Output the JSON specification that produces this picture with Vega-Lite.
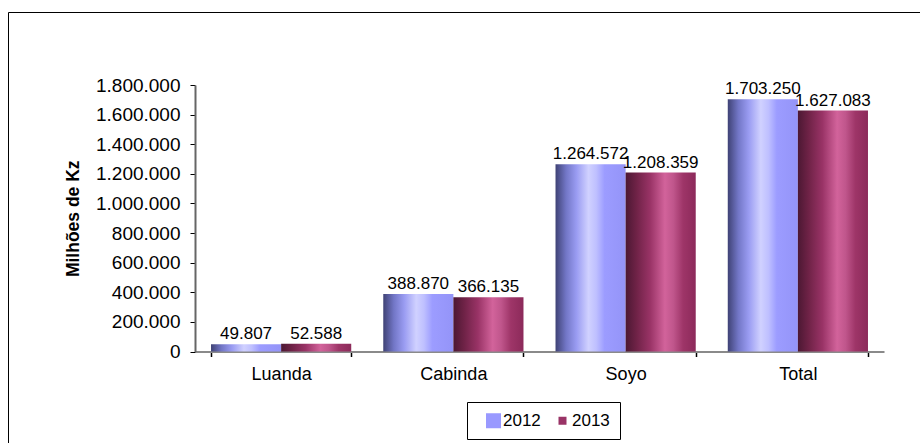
{
  "$schema": "https://vega.github.io/schema/vega-lite/v6.json",
  "width": 912,
  "height": 431,
  "autosize": {"type": "none"},
  "padding": {"left": 8, "top": 12, "right": 0, "bottom": 0},
  "background": "white",
  "config": {
    "locale": {"number": {"decimal": ",", "thousands": ".", "grouping": [3], "currency": ["", ""]}},
    "view": {"stroke": "#000000", "strokeWidth": 1},
    "font": "Liberation Sans"
  },
  "data": {
    "values": [
      {"regiao": "Luanda", "ano": "2012", "valor": 49807},
      {"regiao": "Luanda", "ano": "2013", "valor": 52588},
      {"regiao": "Cabinda", "ano": "2012", "valor": 388870},
      {"regiao": "Cabinda", "ano": "2013", "valor": 366135},
      {"regiao": "Soyo", "ano": "2012", "valor": 1264572},
      {"regiao": "Soyo", "ano": "2013", "valor": 1208359},
      {"regiao": "Total", "ano": "2012", "valor": 1703250},
      {"regiao": "Total", "ano": "2013", "valor": 1627083}
    ]
  },
  "encoding": {
    "x": {
      "field": "regiao",
      "type": "nominal",
      "sort": ["Luanda", "Cabinda", "Soyo", "Total"],
      "scale": {"range": [187, 876], "paddingInner": 0.186, "paddingOuter": 0.093},
      "axis": {
        "title": null,
        "labelAngle": 0,
        "labelFontSize": 18,
        "labelColor": "#000000",
        "labelPadding": 9,
        "tickBand": "extent",
        "tickSize": 5,
        "tickColor": "#000000",
        "tickWidth": 1.5,
        "domainColor": "#8a8a8a",
        "domainWidth": 2,
        "offset": -91.5,
        "grid": false
      }
    },
    "xOffset": {
      "field": "ano",
      "type": "nominal",
      "scale": {"domain": ["2012", "2013"], "paddingInner": 0, "paddingOuter": 0}
    },
    "y": {
      "field": "valor",
      "type": "quantitative",
      "scale": {"domain": [0, 1800000], "range": [339.5, 73], "nice": false},
      "axis": {
        "title": "Milhões de Kz",
        "titleFontSize": 17.5,
        "titleFontWeight": "bold",
        "titleColor": "#000000",
        "titlePadding": 13,
        "values": [0, 200000, 400000, 600000, 800000, 1000000, 1200000, 1400000, 1600000, 1800000],
        "format": ",d",
        "labelFontSize": 19,
        "labelColor": "#000000",
        "labelPadding": 10,
        "tickSize": 5,
        "tickColor": "#000000",
        "domainColor": "#666666",
        "domainWidth": 2,
        "offset": -187,
        "grid": false
      }
    }
  },
  "layer": [
    {
      "mark": {"type": "square", "opacity": 0},
      "encoding": {
        "color": {
          "field": "ano",
          "type": "nominal",
          "scale": {"domain": ["2012", "2013"], "range": ["#9999ff", "#993366"]},
          "legend": {
            "orient": "none",
            "legendX": 459,
            "legendY": 390,
            "direction": "horizontal",
            "title": null,
            "strokeColor": "#000000",
            "padding": 10,
            "symbolType": "square",
            "symbolOpacity": 1,
            "symbolStrokeWidth": 0,
            "symbolOffset": 8,
            "labelFontSize": 17,
            "labelColor": "#000000",
            "labelOffset": 1,
            "columnPadding": 5
          }
        },
        "size": {
          "field": "ano",
          "type": "nominal",
          "scale": {"domain": ["2012", "2013"], "range": [225, 64]},
          "legend": {
            "orient": "none",
            "legendX": 459,
            "legendY": 390,
            "direction": "horizontal",
            "title": null,
            "strokeColor": "#000000",
            "padding": 10,
            "symbolType": "square",
            "symbolOpacity": 1,
            "symbolStrokeWidth": 0,
            "symbolOffset": 8,
            "labelFontSize": 17,
            "labelColor": "#000000",
            "labelOffset": 1,
            "columnPadding": 5
          }
        }
      }
    },
    {
      "transform": [{"filter": "datum.ano == '2012'"}],
      "mark": {
        "type": "bar",
        "fill": {
          "gradient": "linear", "x1": 0, "y1": 0, "x2": 1, "y2": 0,
          "stops": [
            {"offset": 0, "color": "#3f4275"},
            {"offset": 0.15, "color": "#7276c6"},
            {"offset": 0.3, "color": "#9a9cf2"},
            {"offset": 0.47, "color": "#d0d1ff"},
            {"offset": 0.58, "color": "#bfc0ff"},
            {"offset": 0.7, "color": "#9c9cff"},
            {"offset": 1, "color": "#9494f8"}
          ]
        }
      }
    },
    {
      "transform": [{"filter": "datum.ano == '2013'"}],
      "mark": {
        "type": "bar",
        "fill": {
          "gradient": "linear", "x1": 0, "y1": 0, "x2": 1, "y2": 0,
          "stops": [
            {"offset": 0, "color": "#4c1833"},
            {"offset": 0.15, "color": "#6e2246"},
            {"offset": 0.35, "color": "#993366"},
            {"offset": 0.56, "color": "#d2639b"},
            {"offset": 0.68, "color": "#c0568c"},
            {"offset": 0.82, "color": "#9e3568"},
            {"offset": 1, "color": "#8c2a5a"}
          ]
        }
      }
    },
    {
      "mark": {"type": "text", "baseline": "bottom", "dy": -1, "fontSize": 17, "color": "#000000"},
      "encoding": {
        "text": {"field": "valor", "type": "quantitative", "format": ",d"}
      }
    }
  ]
}
